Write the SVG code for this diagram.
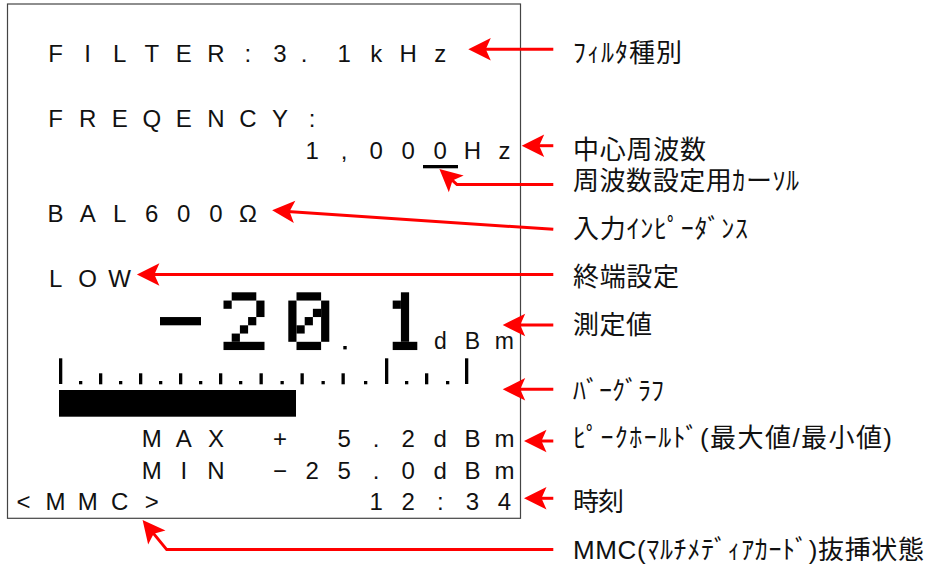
<svg xmlns="http://www.w3.org/2000/svg" width="926" height="564" viewBox="0 0 926 564">
<defs>
<style>
.lcd{font-family:"Liberation Sans",Arial,sans-serif;font-size:24px;fill:#111;text-anchor:middle}
.unit{font-family:"Liberation Sans",Arial,sans-serif;font-size:23px;fill:#111;text-anchor:middle}
.lbl{font-family:"Liberation Sans","Noto Sans CJK JP",sans-serif;font-size:26px;fill:#111}
.arr{fill:none;stroke:#ff0000;stroke-width:3;marker-end:url(#ah)}
.px{fill:#000}
</style>
<marker id="ah" markerUnits="userSpaceOnUse" markerWidth="24" markerHeight="24" viewBox="-8 -12 24 24" refX="0" refY="0" orient="auto">
<path d="M15.5,0 L-7,-11.2 L-2,0 L-7,11.2 Z" fill="#ff0000"/>
</marker>
</defs>
<rect width="926" height="564" fill="#fff"/>

<g id="display">
<rect x="7.5" y="4" width="513" height="514.3" fill="#fff" stroke="#444" stroke-width="1.2"/>
<g id="filter-row"><text class="lcd" x="55.6 87.7 119.7 151.8 183.8 215.9 247.9 280 304 344.1 376.2 408.2 440.3" y="61.5">FILTER:3.1kHz</text></g>
<g id="frequency-row"><text class="lcd" x="55.6 87.7 119.7 151.8 183.8 215.9 247.9 280 312.1" y="126.8">FREQENCY:</text>
<text class="lcd" x="312.1 344.1 376.2 408.2 440.3 472.4 504.4" y="158.9">1,000Hz</text>
<rect id="cursor" x="423" y="165" width="35" height="3.3" fill="#000"/></g>
<g id="impedance-row"><text class="lcd" x="55.6 87.7 119.7 151.8 183.8 215.9 247.9" y="221.6">BAL600Ω</text></g>
<g id="termination-row"><text class="lcd" x="55.6 87.7 119.7" y="286.5">LOW</text></g>
<g id="measured-value">
<rect class="px" x="160" y="317.05" width="41" height="8.25"/>
<rect class="px" x="231.7" y="292.3" width="24.6" height="8.25"/>
<rect class="px" x="223.5" y="300.55" width="8.2" height="8.25"/>
<rect class="px" x="256.3" y="300.55" width="8.2" height="16.5"/>
<rect class="px" x="248.1" y="317.05" width="8.2" height="8.25"/>
<rect class="px" x="239.9" y="325.3" width="8.2" height="8.25"/>
<rect class="px" x="231.7" y="333.55" width="8.2" height="8.25"/>
<rect class="px" x="223.5" y="341.8" width="41" height="8.25"/>
<rect class="px" x="296.5" y="292.3" width="24.6" height="8.25"/>
<rect class="px" x="288.3" y="300.55" width="8.2" height="41.25"/>
<rect class="px" x="321.1" y="300.55" width="8.2" height="41.25"/>
<rect class="px" x="312.9" y="308.8" width="8.2" height="8.25"/>
<rect class="px" x="304.7" y="317.05" width="8.2" height="8.25"/>
<rect class="px" x="296.5" y="325.3" width="8.2" height="8.25"/>
<rect class="px" x="296.5" y="341.8" width="24.6" height="8.25"/>
<rect class="px" x="343.3" y="346" width="3.4" height="3.4"/>
<rect class="px" x="400.9" y="292.3" width="8.2" height="49.5"/>
<rect class="px" x="392.7" y="300.55" width="8.2" height="8.25"/>
<rect class="px" x="392.7" y="341.8" width="24.6" height="8.25"/>
<text class="unit" x="440.3 472.4 504.4" y="349">dBm</text>
</g>
<g id="bar-graph">
<rect class="px" x="59" y="358.3" width="3.3" height="25.7"/>
<rect class="px" x="79" y="381" width="3.3" height="3.3"/>
<rect class="px" x="99" y="373.3" width="3.3" height="11"/>
<rect class="px" x="119" y="381" width="3.3" height="3.3"/>
<rect class="px" x="139" y="373.3" width="3.3" height="11"/>
<rect class="px" x="159" y="381" width="3.3" height="3.3"/>
<rect class="px" x="179" y="373.3" width="3.3" height="11"/>
<rect class="px" x="199" y="381" width="3.3" height="3.3"/>
<rect class="px" x="219" y="373.3" width="3.3" height="11"/>
<rect class="px" x="239" y="381" width="3.3" height="3.3"/>
<rect class="px" x="259.5" y="373.3" width="3.3" height="11"/>
<rect class="px" x="280.5" y="381" width="3.3" height="3.3"/>
<rect class="px" x="300.5" y="373.3" width="3.3" height="11"/>
<rect class="px" x="321.5" y="381" width="3.3" height="3.3"/>
<rect class="px" x="341.5" y="373.3" width="3.3" height="11"/>
<rect class="px" x="364" y="381" width="3.3" height="3.3"/>
<rect class="px" x="385" y="358.3" width="3.3" height="25.7"/>
<rect class="px" x="405" y="381" width="3.3" height="3.3"/>
<rect class="px" x="425" y="373.3" width="3.3" height="11"/>
<rect class="px" x="446" y="381" width="3.3" height="3.3"/>
<rect class="px" x="465" y="358.3" width="3.3" height="25.7"/>
<rect class="px" x="59" y="390" width="237" height="26.7"/>
</g>
<g id="peak-hold">
<text class="lcd" x="151.8 183.8 215.9" y="446.5">MAX</text>
<text class="lcd" x="280 344.1 376.2 408.2 440.3 472.4 504.4" y="446.5">+5.2dBm</text>
<text class="lcd" x="151.8 183.8 215.9" y="478.5">MIN</text>
<text class="lcd" x="280 312.1 344.1 376.2 408.2 440.3 472.4 504.4" y="478.5">−25.0dBm</text>
</g>
<g id="mmc-status"><text class="lcd" x="23.5 55.6 87.7 119.7 151.8" y="509.5">&lt;MMC&gt;</text></g>
<g id="clock"><text class="lcd" x="376.2 408.2 440.3 472.4 504.4" y="509.5">12:34</text></g>
</g>

<g id="connectors">
<path class="arr" d="M553.3,49.3 H483.8"/>
<path class="arr" d="M553.3,145.7 H537.2"/>
<path class="arr" d="M553.3,184.5 H457 L451,179.2"/>
<path class="arr" d="M553.3,229.3 L287.6,211.4"/>
<path class="arr" d="M553.3,274.5 H152.4"/>
<path class="arr" d="M553.3,325 H518.2"/>
<path class="arr" d="M553.3,389.3 H518.2"/>
<path class="arr" d="M553.3,441 H539.5"/>
<path class="arr" d="M553.3,498.3 H539.5"/>
<path class="arr" d="M553.3,549.6 H166.7 L152.4,532.1"/>
</g>

<g id="label-filter"><text class="lbl" x="573" y="62.4" textLength="109">ﾌｨﾙﾀ種別</text></g>
<g id="label-center-frequency"><text class="lbl" x="573" y="158.7" textLength="133">中心周波数</text></g>
<g id="label-cursor"><text class="lbl" x="573" y="189.9" textLength="226">周波数設定用ｶーｿﾙ</text></g>
<g id="label-impedance"><text class="lbl" x="573" y="238.2" textLength="175">入力ｲﾝﾋﾟｰﾀﾞﾝｽ</text></g>
<g id="label-termination"><text class="lbl" x="573" y="285.7" textLength="106">終端設定</text></g>
<g id="label-measured"><text class="lbl" x="573" y="334.1" textLength="79">測定値</text></g>
<g id="label-bargraph"><text class="lbl" x="573" y="399.5" textLength="91">ﾊﾞｰｸﾞﾗﾌ</text></g>
<g id="label-peak"><text class="lbl" x="573" y="447.4" textLength="319">ﾋﾟｰｸﾎｰﾙﾄﾞ(最大値/最小値)</text></g>
<g id="label-clock"><text class="lbl" x="573" y="510.7" textLength="51">時刻</text></g>
<g id="label-mmc"><text class="lbl" x="573" y="559.1" textLength="351">MMC(ﾏﾙﾁﾒﾃﾞｨｱｶｰﾄﾞ)抜挿状態</text></g>
</svg>
